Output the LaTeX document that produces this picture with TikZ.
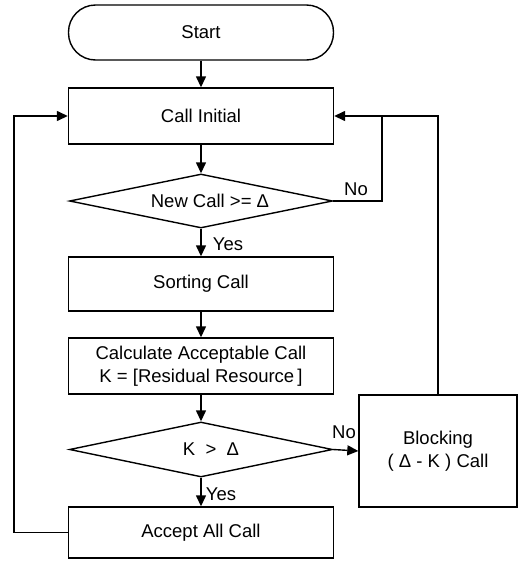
\documentclass[tikz,border=0pt]{standalone}
\usepackage{fontspec}
\setmainfont{Liberation Sans}
\usetikzlibrary{shapes.geometric,arrows.meta}
\begin{document}
\begin{tikzpicture}[x=1pt,y=-1pt,
  every node/.style={font=\fontsize{18.5}{23}\selectfont, inner sep=0pt},
  boxnode/.style={draw, line width=1.4pt, minimum width=265pt, align=center},
  decnode/.style={draw, diamond, line width=1.4pt, minimum width=263pt, minimum height=54pt},
  flow/.style={line width=1.4pt, -{Triangle[length=11pt,width=10pt]}},
  plain/.style={line width=1.4pt},
  lbl/.style={}]
\useasboundingbox (0,0) rectangle (519,563);
\node[boxnode, rounded corners=27pt, minimum height=55pt] (start) at (201,32.5) {Start};
\node[boxnode, minimum height=56pt] (call) at (201,116) {Call Initial};
\node[decnode] (d1) at (201,201) {};
\node at (210,201) {New Call >= Δ};
\node[boxnode, minimum height=54pt] (sort) at (201,284) {Sorting Call};
\node[boxnode, minimum height=56pt] (calc) at (201,366) {Calculate Acceptable Call\\K = [Residual Resource\,]};
\node[decnode, minimum height=55pt] (d2) at (201,449.5) {};
\node at (211,449.5) {K~~>~~Δ};
\node[boxnode, minimum height=51pt] (accept) at (201,532.5) {Accept All Call};
\node[boxnode, minimum width=158pt, minimum height=112pt] (block) at (438,451) {Blocking\\( Δ - K ) Call};
\coordinate (lx) at (14,0);
\coordinate (rx) at (382,0);
\draw[flow] (start.south) -- (call.north);
\draw[flow] (call.south) -- (d1.north);
\draw[flow] (d1.south) -- (sort.north);
\draw[flow] (sort.south) -- (calc.north);
\draw[flow] (calc.south) -- (d2.north);
\draw[flow] (d2.south) -- (accept.north);
\draw[flow] (d2.east) -- (block.west);
\draw[flow] (accept.west) -- (accept.west -| lx) -- (call.west -| lx) -- (call.west);
\draw[flow] (block.north) |- (call.east);
\draw[plain] (d1.east) -- (d1.east -| rx) -- (call.east -| rx);
\node[lbl] at (228,244) {Yes};
\node[lbl] at (221,494.5) {Yes};
\node[lbl] at (356,189) {No};
\node[lbl] at (344,432) {No};
\end{tikzpicture}
\end{document}
